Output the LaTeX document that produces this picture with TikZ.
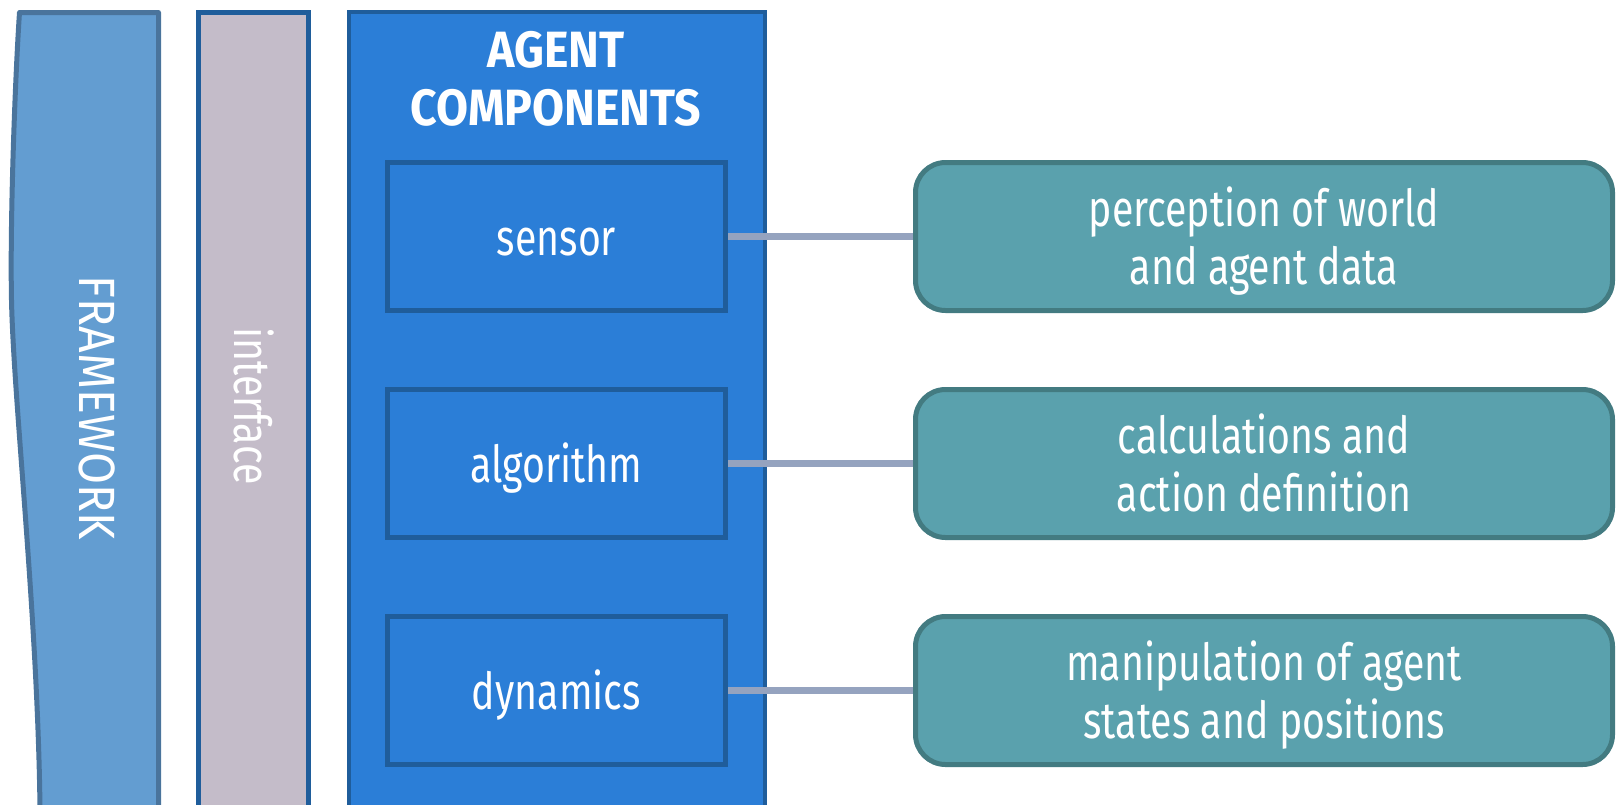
\documentclass[tikz,border=0pt]{standalone}
\usepackage{fontspec}
\setmainfont{Fira Sans}[FakeStretch=0.77]
\newfontfamily\capsfont{Fira Sans}[FakeStretch=0.91]
\usetikzlibrary{positioning}
\definecolor{fwfill}{HTML}{639DD1}
\definecolor{fwline}{HTML}{4A749C}
\definecolor{iffill}{HTML}{C4BCC9}
\definecolor{blueline}{HTML}{1F5D9B}
\definecolor{agfill}{HTML}{2B7ED7}
\definecolor{tealfill}{HTML}{5AA1AD}
\definecolor{tealline}{HTML}{437B81}
\definecolor{linkgray}{HTML}{95A3BF}

\tikzset{
  label/.style={text=white,inner sep=0pt,font=\fontsize{51}{58}\selectfont},
  comp/.style={draw=blueline,fill=agfill,line width=5pt,minimum width=338pt,minimum height=148pt,
    text=white,font=\fontsize{51}{58}\selectfont,text height=37pt,text depth=0pt},
  desc/.style={draw=tealline,fill=tealfill,line width=5pt,rounded corners=30pt,minimum width=697pt,
    minimum height=148pt,align=center,text=white,font=\fontsize{51}{58}\selectfont,
    text height=96pt,text depth=0pt},
  link/.style={draw=linkgray,line width=7pt}
}

\begin{document}
\begin{tikzpicture}[x=1pt,y=-1pt]
\useasboundingbox (0,0) rectangle (1616,804);

\draw[fill=fwfill,draw=fwline,line width=5pt,line join=round]
  (19.5,12.5) -- (158.5,12.5) -- (158.5,810) -- (40,810)
  .. controls (38,620) and (13.5,400) .. (11.5,300)
  .. controls (9.9,220) and (15,80) .. (19.5,12.5) -- cycle;
\node[label,rotate=-90,font=\fontsize{51}{58}\capsfont] (framework) at (97,408) {FRAMEWORK};

\node[draw=blueline,fill=iffill,line width=5pt,minimum width=110pt,minimum height=800pt,
  anchor=north west] (iface) at (196,10) {};
\node[label,rotate=-90] (ifacetext) at (254,406) {interface};

\node[draw=blueline,fill=agfill,line width=4pt,minimum width=416pt,minimum height=800pt,
  anchor=north west] (agent) at (347,10) {};
\node[label,align=center,anchor=base,font=\fontsize{51}{58}\capsfont\bfseries] (agenthead)
  at (556,125) {AGENT\\COMPONENTS};

\node[comp] (sensor) at (556.5,236.5) {sensor};
\node[comp,below=74pt of sensor] (algorithm) {algorithm};
\node[comp,below=74pt of algorithm] (dynamics) {dynamics};

\node[desc,right=185pt of sensor.east,anchor=west] (perception) {perception of world\\and agent data};
\node[desc,right=185pt of algorithm.east,anchor=west] (calc) {calculations and\\action definition};
\node[desc,right=185pt of dynamics.east,anchor=west] (manip) {manipulation of agent\\states and positions};

\draw[link] (sensor.east) -- (perception.west);
\draw[link] (algorithm.east) -- (calc.west);
\draw[link] (dynamics.east) -- (manip.west);
\end{tikzpicture}
\end{document}
